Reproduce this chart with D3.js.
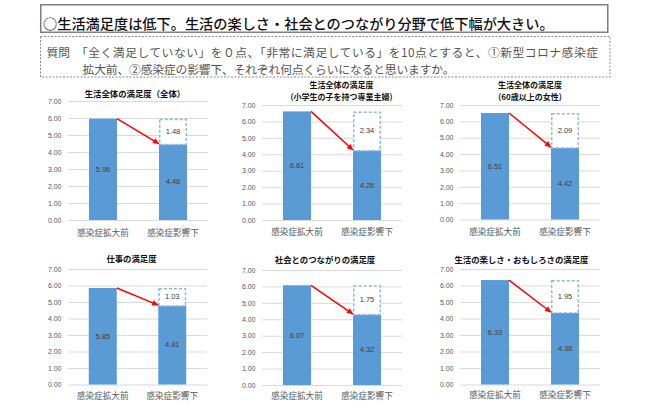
<!DOCTYPE html>
<html><head><meta charset="utf-8">
<script src="https://cdn.jsdelivr.net/npm/d3@7"></script>
<style>body{margin:0;background:#fff}svg{display:block}</style>
</head><body><svg id="c" width="650" height="409"></svg>
<script>
// ---- data ----
const headline = "○生活満足度は低下。生活の楽しさ・社会とのつながり分野で低下幅が大きい。";
const questionLabel = "質問";
const questionLines = [
  "「全く満足していない」を０点、「非常に満足している」を10点とすると、①新型コロナ感染症",
  "拡大前、②感染症の影響下、それぞれ何点くらいになると思いますか。"
];
const chartTitles = [
  ["生活全体の満足度（全体）"],
  ["生活全体の満足度", "(小学生の子を持つ専業主婦)"],
  ["生活全体の満足度", "(60歳以上の女性)"],
  ["仕事の満足度"],
  ["社会とのつながりの満足度"],
  ["生活の楽しさ・おもしろさの満足度"]
];
const categories = ["感染症拡大前", "感染症影響下"];
const beforeValues = [5.96, 6.61, 6.51, 5.85, 6.07, 6.33];
const afterValues  = [4.48, 4.26, 4.42, 4.81, 4.32, 4.38];
const dropLabels   = [1.48, 2.34, 2.09, 1.03, 1.75, 1.95];
const yTicks = [0, 1, 2, 3, 4, 5, 6, 7];

// ---- layout (positions only) ----
const panels = [
  {x0: 68,  x1: 208, yTop: 101, yBase: 220,   tx: 135,   ty: [93],     catY: 232},
  {x0: 262, x1: 402, yTop: 105, yBase: 220,   tx: 341.5, ty: [84, 96], catY: 230.5},
  {x0: 460, x1: 600, yTop: 105, yBase: 219.5, tx: 530,   ty: [84, 96], catY: 230.5},
  {x0: 68,  x1: 207, yTop: 269, yBase: 384.5, tx: 131.5, ty: [258],    catY: 395},
  {x0: 262, x1: 402, yTop: 270, yBase: 385,   tx: 325,   ty: [259],    catY: 395},
  {x0: 460, x1: 600, yTop: 269, yBase: 384.5, tx: 521.5, ty: [259],    catY: 394}
];

const svg = d3.select("#c");
const JP = "'Noto Sans CJK JP','Noto Sans CJK SC',sans-serif";
const NUM = "'Liberation Sans','DejaVu Sans',sans-serif";
const barColor = "#5B9BD5";

// ---- header ----
svg.append("rect").attr("x", 40.75).attr("y", 4.75).attr("width", 567).attr("height", 27.5)
  .attr("fill", "#fff").attr("stroke", "#7f7f7f").attr("stroke-width", 1.5);
svg.append("text").attr("x", 43).attr("y", 23).attr("dominant-baseline", "central")
  .attr("font-family", JP).attr("font-size", 14.2).attr("font-weight", 500).attr("fill", "#111")
  .text(headline);
svg.append("rect").attr("x", 40.5).attr("y", 36.5).attr("width", 569.5).attr("height", 40.5)
  .attr("fill", "none").attr("stroke", "#8c8c8c").attr("stroke-width", 1).attr("stroke-dasharray", "2,1.5");
svg.append("text").attr("x", 46.5).attr("y", 51.5).attr("dominant-baseline", "central")
  .attr("font-family", JP).attr("font-size", 11.8).attr("fill", "#555").text(questionLabel);
svg.append("text").attr("x", 76).attr("y", 51.5).attr("dominant-baseline", "central")
  .attr("font-family", JP).attr("font-size", 11.8).attr("fill", "#555")
  .attr("textLength", 522).attr("lengthAdjust", "spacing").text(questionLines[0]);
svg.append("text").attr("x", 82.5).attr("y", 68.5).attr("dominant-baseline", "central")
  .attr("font-family", JP).attr("font-size", 11.8).attr("fill", "#555")
  .attr("textLength", 372).attr("lengthAdjust", "spacing").text(questionLines[1]);

// arrow marker
svg.append("defs").append("marker").attr("id", "arr")
  .attr("markerUnits", "userSpaceOnUse").attr("viewBox", "0 0 10 10")
  .attr("refX", 10).attr("refY", 5).attr("markerWidth", 7).attr("markerHeight", 6)
  .attr("orient", "auto")
  .append("path").attr("d", "M0,0 L10,5 L0,10 Z").attr("fill", "#FF0000");

// ---- panels ----
panels.forEach((p, i) => {
  const g = svg.append("g");
  const y = d3.scaleLinear().domain([0, 7]).range([p.yBase, p.yTop]);
  const x = d3.scalePoint().domain(categories).range([p.x0, p.x1]).padding(0.5);
  const bw = 28;

  // axis + gridlines
  const ax = g.append("g").attr("transform", `translate(${p.x0},0)`)
    .call(d3.axisLeft(y).tickValues(yTicks).tickFormat(d3.format(".2f"))
      .tickSize(-(p.x1 - p.x0)).tickPadding(6.5));
  ax.select(".domain").remove();
  ax.selectAll("line").attr("stroke", "#d9d9d9").attr("stroke-width", 1);
  ax.selectAll("text").attr("fill", "#595959").attr("font-family", NUM).attr("font-size", 7);

  // title
  const fs = chartTitles[i].length > 1 ? 8 : 8.4;
  chartTitles[i].forEach((t, k) => {
    g.append("text").attr("x", p.tx).attr("y", p.ty[k]).attr("text-anchor", "middle")
      .attr("dominant-baseline", "central").attr("font-family", JP).attr("font-size", fs)
      .attr("font-weight", "bold").attr("fill", "#111").text(t);
  });

  const b = beforeValues[i], a = afterValues[i];
  const xb = x(categories[0]) - bw / 2, xa = x(categories[1]) - bw / 2;

  // bars
  g.append("rect").attr("x", xb).attr("y", y(b)).attr("width", bw).attr("height", y(0) - y(b)).attr("fill", barColor);
  g.append("rect").attr("x", xa).attr("y", y(a)).attr("width", bw).attr("height", y(0) - y(a)).attr("fill", barColor);
  // dashed drop box
  g.append("rect").attr("x", xa + 0.75).attr("y", y(b) + 0.75).attr("width", bw - 1.5).attr("height", y(a) - y(b))
    .attr("fill", "#fff").attr("stroke", "#8fb8e2").attr("stroke-width", 1.5).attr("stroke-dasharray", "3,2");

  // value labels
  const lbl = (xx, yy, s) => g.append("text").attr("x", xx).attr("y", yy).attr("text-anchor", "middle")
    .attr("dominant-baseline", "central").attr("font-family", NUM).attr("font-size", 7.5)
    .attr("fill", "#404040").text(s);
  lbl(x(categories[0]), y(b / 2), b.toFixed(2));
  lbl(x(categories[1]), y(a / 2), a.toFixed(2));
  lbl(x(categories[1]), y((a + b) / 2), dropLabels[i].toFixed(2));

  // arrow
  g.append("line").attr("x1", xb + bw).attr("y1", y(b)).attr("x2", xa).attr("y2", y(a))
    .attr("stroke", "#FF0000").attr("stroke-width", 1.5).attr("marker-end", "url(#arr)");

  // category labels
  categories.forEach(c => {
    g.append("text").attr("x", x(c)).attr("y", p.catY).attr("text-anchor", "middle")
      .attr("dominant-baseline", "central").attr("font-family", JP).attr("font-size", 8.6)
      .attr("fill", "#595959").text(c);
  });
});
</script></body></html>
